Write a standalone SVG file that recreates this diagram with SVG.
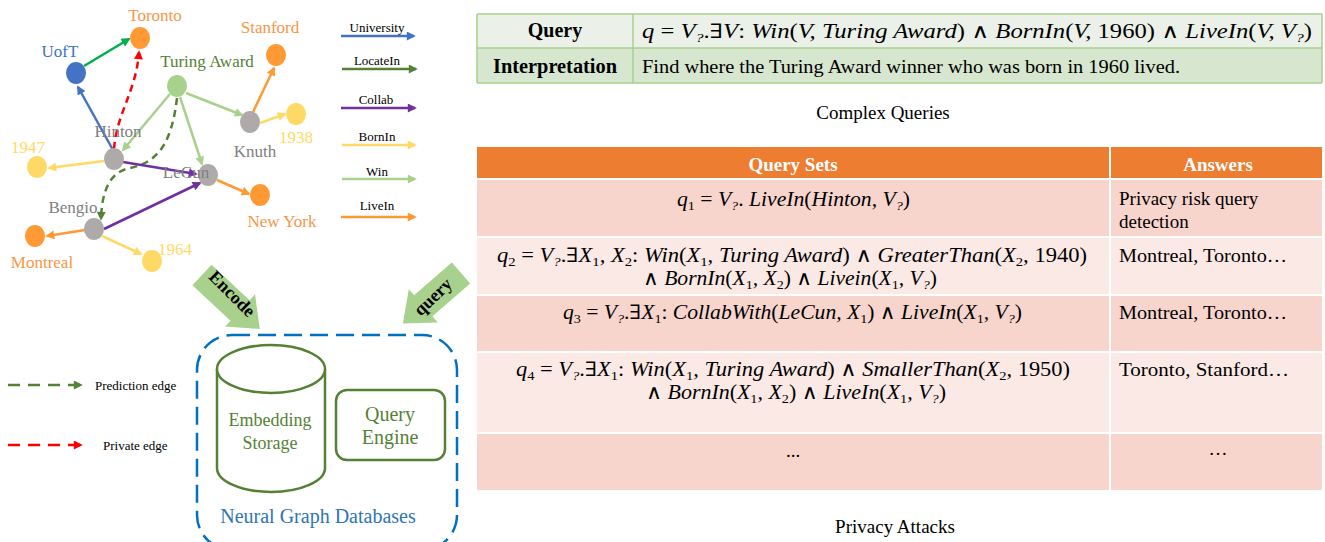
<svg xmlns="http://www.w3.org/2000/svg" width="1325" height="542" viewBox="0 0 1325 542">
<style>
  text{font-family:"Liberation Serif","Times New Roman",serif;}
  .lbl{font-size:17px;text-anchor:middle;}
  .org{fill:#f79646;} .yel{fill:#ffd966;} .gry{fill:#808080;}
  .leg{font-size:13px;text-anchor:middle;fill:#000;}
  .e{fill:none;stroke-width:2.5;}
  .m{font-size:20px;font-style:italic;fill:#000;}
  .u{font-style:normal;}
  .op{font-style:normal;font-family:"DejaVu Serif","Liberation Serif",serif;font-size:20px;font-weight:normal;}
  .sub{font-size:13px;baseline-shift:-4px;}
  .cell{font-size:19px;fill:#000;}
  .hd{font-size:19px;font-weight:bold;fill:#fff;text-anchor:middle;}
</style>
<defs>
  <marker id="aBlue" viewBox="0 0 10 10" refX="8" refY="5" markerUnits="userSpaceOnUse" markerWidth="10" markerHeight="9" orient="auto"><path d="M0,0L10,5L0,10z" fill="#4472c4"/></marker>
  <marker id="aGreen" viewBox="0 0 10 10" refX="8" refY="5" markerUnits="userSpaceOnUse" markerWidth="10" markerHeight="9" orient="auto"><path d="M0,0L10,5L0,10z" fill="#00b050"/></marker>
  <marker id="aDG" viewBox="0 0 10 10" refX="8" refY="5" markerUnits="userSpaceOnUse" markerWidth="10" markerHeight="9" orient="auto"><path d="M0,0L10,5L0,10z" fill="#548235"/></marker>
  <marker id="aLG" viewBox="0 0 10 10" refX="8" refY="5" markerUnits="userSpaceOnUse" markerWidth="10" markerHeight="9" orient="auto"><path d="M0,0L10,5L0,10z" fill="#a9d18e"/></marker>
  <marker id="aPur" viewBox="0 0 10 10" refX="8" refY="5" markerUnits="userSpaceOnUse" markerWidth="10" markerHeight="9" orient="auto"><path d="M0,0L10,5L0,10z" fill="#7030a0"/></marker>
  <marker id="aYel" viewBox="0 0 10 10" refX="8" refY="5" markerUnits="userSpaceOnUse" markerWidth="10" markerHeight="9" orient="auto"><path d="M0,0L10,5L0,10z" fill="#ffd966"/></marker>
  <marker id="aOrg" viewBox="0 0 10 10" refX="8" refY="5" markerUnits="userSpaceOnUse" markerWidth="10" markerHeight="9" orient="auto"><path d="M0,0L10,5L0,10z" fill="#ff9933"/></marker>
  <marker id="aRed" viewBox="0 0 10 10" refX="8" refY="5" markerUnits="userSpaceOnUse" markerWidth="10" markerHeight="9" orient="auto"><path d="M0,0L10,5L0,10z" fill="#ff0000"/></marker>
</defs>

<!-- connectors -->
<g id="connectors">
  <line class="e" x1="84" y1="66" x2="129" y2="39" stroke="#00b050" marker-end="url(#aGreen)"/>
  <line class="e" x1="113" y1="150" x2="78" y2="87" stroke="#4472c4" marker-end="url(#aBlue)"/>
  <path class="e" d="M114,149 C117,112 136,92 139,52" stroke="#ff0000" stroke-dasharray="7 5" marker-end="url(#aRed)"/>
  <line class="e" x1="170" y1="94" x2="123" y2="150" stroke="#a9d18e" marker-end="url(#aLG)"/>
  <line class="e" x1="180" y1="97" x2="202" y2="164" stroke="#a9d18e" marker-end="url(#aLG)"/>
  <line class="e" x1="186" y1="93" x2="242" y2="115" stroke="#a9d18e" marker-end="url(#aLG)"/>
  <path class="e" d="M177,98 C172,140 160,162 130,168 C110,172 102,190 101,219" stroke="#548235" stroke-dasharray="7 5" marker-end="url(#aDG)"/>
  <line class="e" x1="253" y1="112" x2="274" y2="68" stroke="#ff9933" marker-end="url(#aOrg)"/>
  <line class="e" x1="260" y1="123" x2="285" y2="114" stroke="#ffd966" marker-end="url(#aYel)"/>
  <line class="e" x1="104" y1="161" x2="49" y2="168" stroke="#ffd966" marker-end="url(#aYel)"/>
  <line class="e" x1="123" y1="162" x2="196" y2="174" stroke="#7030a0" marker-end="url(#aPur)"/>
  <line class="e" x1="104" y1="229" x2="200" y2="183" stroke="#7030a0" marker-end="url(#aPur)"/>
  <line class="e" x1="217" y1="180" x2="249" y2="194" stroke="#ff9933" marker-end="url(#aOrg)"/>
  <line class="e" x1="85" y1="230" x2="47" y2="236" stroke="#ff9933" marker-end="url(#aOrg)"/>
  <line class="e" x1="102" y1="236" x2="141" y2="254" stroke="#ffd966" marker-end="url(#aYel)"/>
</g>

<!-- graph nodes -->
<g id="n-toronto"><ellipse cx="140" cy="38" rx="10" ry="11" fill="#ff9933"/><text class="lbl org" x="155" y="21">Toronto</text></g>
<g id="n-uoft"><ellipse cx="76" cy="73" rx="10" ry="11" fill="#4472c4"/><text class="lbl" x="60" y="57" fill="#4472c4">UofT</text></g>
<g id="n-turing"><ellipse cx="177" cy="86" rx="10" ry="11" fill="#a9d18e"/><text class="lbl" x="207" y="67" fill="#548235">Turing Award</text></g>
<g id="n-stanford"><ellipse cx="276" cy="55" rx="10" ry="11" fill="#ff9933"/><text class="lbl org" x="270" y="33">Stanford</text></g>
<g id="n-1938"><ellipse cx="296" cy="114" rx="10" ry="11" fill="#ffd966"/><text class="lbl yel" x="296" y="143">1938</text></g>
<g id="n-knuth"><ellipse cx="250" cy="122" rx="10" ry="11" fill="#aeaaaa"/><text class="lbl gry" x="255" y="157">Knuth</text></g>
<g id="n-1947"><ellipse cx="37" cy="167" rx="10" ry="11" fill="#ffd966"/><text class="lbl yel" x="28" y="153">1947</text></g>
<g id="n-hinton"><ellipse cx="114" cy="159" rx="10" ry="11" fill="#aeaaaa"/><text class="lbl gry" x="118" y="137">Hinton</text></g>
<g id="n-lecun"><ellipse cx="208" cy="175" rx="10" ry="11" fill="#aeaaaa"/><text class="lbl gry" x="186" y="178">LeCun</text></g>
<g id="n-newyork"><ellipse cx="260" cy="195" rx="10" ry="11" fill="#ff9933"/><text class="lbl org" x="282" y="227">New York</text></g>
<g id="n-bengio"><ellipse cx="94" cy="229" rx="10" ry="11" fill="#aeaaaa"/><text class="lbl gry" x="73" y="213">Bengio</text></g>
<g id="n-montreal"><ellipse cx="35" cy="236" rx="10" ry="11" fill="#ff9933"/><text class="lbl org" x="42" y="268">Montreal</text></g>
<g id="n-1964"><ellipse cx="152" cy="261" rx="10" ry="11" fill="#ffd966"/><text class="lbl yel" x="175" y="255">1964</text></g>

<!-- relation legend -->
<g id="legend-relations">
  <text class="leg" x="377" y="32">University</text>
  <line class="e" x1="341" y1="36" x2="414" y2="36" stroke="#4472c4" marker-end="url(#aBlue)"/>
  <text class="leg" x="377" y="65">LocateIn</text>
  <line class="e" x1="342" y1="69" x2="416" y2="69" stroke="#548235" marker-end="url(#aDG)"/>
  <text class="leg" x="376" y="104">Collab</text>
  <line class="e" x1="341" y1="108" x2="415" y2="108" stroke="#7030a0" marker-end="url(#aPur)"/>
  <text class="leg" x="377" y="141">BornIn</text>
  <line class="e" x1="342" y1="145" x2="415" y2="145" stroke="#ffd966" marker-end="url(#aYel)"/>
  <text class="leg" x="377" y="176">Win</text>
  <line class="e" x1="342" y1="179" x2="415" y2="179" stroke="#a9d18e" marker-end="url(#aLG)"/>
  <text class="leg" x="377" y="210">LiveIn</text>
  <line class="e" x1="341" y1="217" x2="415" y2="217" stroke="#ff9933" marker-end="url(#aOrg)"/>
</g>

<!-- edge-type legend -->
<g id="legend-edges">
  <line class="e" x1="8" y1="385" x2="81" y2="385" stroke="#548235" stroke-dasharray="12 8" marker-end="url(#aDG)"/>
  <text x="95" y="390" font-size="13" fill="#000">Prediction edge</text>
  <line class="e" x1="8" y1="445" x2="81" y2="445" stroke="#ff0000" stroke-dasharray="12 8" marker-end="url(#aRed)"/>
  <text x="103" y="450" font-size="13" fill="#000">Private edge</text>
</g>

<!-- block arrows -->
<g id="arrow-encode">
  <polygon transform="translate(202,275) rotate(43)" points="0,-14 52,-14 52,-22 79,0 52,22 52,14 0,14" fill="#a9d18e"/>
  <text transform="translate(228,298) rotate(45)" font-size="18" font-weight="bold" text-anchor="middle" fill="#000">Encode</text>
</g>
<g id="arrow-query">
  <polygon transform="translate(461,273) rotate(139)" points="0,-14 50,-14 50,-22 77,0 50,22 50,14 0,14" fill="#a9d18e"/>
  <text transform="translate(437,301) rotate(-44)" font-size="18" font-weight="bold" text-anchor="middle" fill="#000">query</text>
</g>

<!-- neural graph database -->
<g id="ngdb">
  <rect x="197" y="335" width="260" height="215" rx="35" fill="none" stroke="#0070c0" stroke-width="2.5" stroke-dasharray="18 8"/>
  <text x="318" y="523" font-size="20" text-anchor="middle" fill="#2e75b6">Neural Graph Databases</text>
</g>
<g id="embedding-storage">
  <path d="M217,369 L217,468 A54,24 0 0 0 325,468 L325,369" fill="#fff" stroke="#548235" stroke-width="2.5"/>
  <ellipse cx="271" cy="369" rx="54" ry="24" fill="#fff" stroke="#548235" stroke-width="2.5"/>
  <text x="270" y="426" font-size="18" text-anchor="middle" fill="#548235">Embedding</text>
  <text x="270" y="449" font-size="18" text-anchor="middle" fill="#548235">Storage</text>
</g>
<g id="query-engine">
  <rect x="336" y="390" width="109" height="70" rx="11" fill="#fff" stroke="#548235" stroke-width="2.5"/>
  <text x="390" y="421" font-size="20" text-anchor="middle" fill="#548235">Query</text>
  <text x="390" y="444" font-size="20" text-anchor="middle" fill="#548235">Engine</text>
</g>

<!-- complex query table -->
<g id="complex-query-table">
  <rect x="477" y="14" width="845" height="34" fill="#ebf1e8"/>
  <rect x="477" y="48" width="845" height="35" fill="#d6e6cf"/>
  <g stroke="#a9d18e" stroke-width="1.5">
    <line x1="477" y1="14" x2="1322" y2="14"/>
    <line x1="477" y1="48" x2="1322" y2="48"/>
    <line x1="477" y1="83" x2="1322" y2="83"/>
    <line x1="477" y1="14" x2="477" y2="83"/>
    <line x1="633" y1="14" x2="633" y2="83"/>
    <line x1="1322" y1="14" x2="1322" y2="83"/>
  </g>
  <text x="555" y="37" font-size="20" font-weight="bold" text-anchor="middle" fill="#000">Query</text>
  <text x="555" y="73" font-size="20" font-weight="bold" text-anchor="middle" fill="#000" textLength="124" lengthAdjust="spacingAndGlyphs">Interpretation</text>
  <text class="m" x="642" y="38" textLength="670" lengthAdjust="spacingAndGlyphs">q <tspan class="u">=</tspan> V<tspan class="sub">?</tspan><tspan class="u">.</tspan><tspan class="op">∃</tspan>V<tspan class="u">:</tspan> Win<tspan class="u">(</tspan>V, Turing Award<tspan class="u">)</tspan> <tspan class="op">∧</tspan> BornIn<tspan class="u">(</tspan>V, <tspan class="u">1960)</tspan> <tspan class="op">∧</tspan> LiveIn<tspan class="u">(</tspan>V, V<tspan class="sub">?</tspan><tspan class="u">)</tspan></text>
  <text class="cell" x="642" y="73" textLength="538" lengthAdjust="spacingAndGlyphs">Find where the Turing Award winner who was born in 1960 lived.</text>
  <text x="883" y="119" font-size="19" text-anchor="middle" fill="#000">Complex Queries</text>
</g>

<!-- privacy attack table -->
<g id="privacy-table">
  <rect x="477" y="147" width="845" height="32" fill="#ed7d31"/>
  <rect x="477" y="179" width="845" height="58" fill="#f8d5cc"/>
  <rect x="477" y="237" width="845" height="58" fill="#fbe9e5"/>
  <rect x="477" y="295" width="845" height="57" fill="#f8d5cc"/>
  <rect x="477" y="352" width="845" height="81" fill="#fbe9e5"/>
  <rect x="477" y="433" width="845" height="57" fill="#f8d5cc"/>
  <g stroke="#fff" stroke-width="2">
    <line x1="477" y1="179" x2="1322" y2="179"/>
    <line x1="477" y1="237" x2="1322" y2="237"/>
    <line x1="477" y1="295" x2="1322" y2="295"/>
    <line x1="477" y1="352" x2="1322" y2="352"/>
    <line x1="477" y1="433" x2="1322" y2="433"/>
    <line x1="1110" y1="147" x2="1110" y2="490"/>
  </g>
  <text class="hd" x="793" y="171">Query Sets</text>
  <text class="hd" x="1218" y="171">Answers</text>

  <text class="m" x="677" y="206" textLength="233" lengthAdjust="spacingAndGlyphs">q<tspan class="sub u">1</tspan> <tspan class="u">=</tspan> V<tspan class="sub">?</tspan><tspan class="u">.</tspan> LiveIn<tspan class="u">(</tspan>Hinton, V<tspan class="sub">?</tspan><tspan class="u">)</tspan></text>
  <text class="cell" x="1119" y="205">Privacy risk query</text>
  <text class="cell" x="1119" y="228">detection</text>

  <text class="m" x="497" y="262" textLength="590" lengthAdjust="spacingAndGlyphs">q<tspan class="sub u">2</tspan>  <tspan class="u">=</tspan> V<tspan class="sub">?</tspan><tspan class="u">.</tspan><tspan class="op">∃</tspan>X<tspan class="sub u">1</tspan>, X<tspan class="sub u">2</tspan><tspan class="u">:</tspan> Win<tspan class="u">(</tspan>X<tspan class="sub u">1</tspan>, Turing Award<tspan class="u">)</tspan> <tspan class="op">∧</tspan> GreaterThan<tspan class="u">(</tspan>X<tspan class="sub u">2</tspan>, <tspan class="u">1940)</tspan></text>
  <text class="m" x="643" y="285" textLength="294" lengthAdjust="spacingAndGlyphs"><tspan class="op">∧</tspan> BornIn<tspan class="u">(</tspan>X<tspan class="sub u">1</tspan>, X<tspan class="sub u">2</tspan><tspan class="u">)</tspan> <tspan class="op">∧</tspan> Livein<tspan class="u">(</tspan>X<tspan class="sub u">1</tspan>, V<tspan class="sub">?</tspan><tspan class="u">)</tspan></text>
  <text class="cell" x="1119" y="262" textLength="168" lengthAdjust="spacingAndGlyphs">Montreal, Toronto…</text>

  <text class="m" x="563" y="319" textLength="459" lengthAdjust="spacingAndGlyphs">q<tspan class="sub u">3</tspan> <tspan class="u">=</tspan> V<tspan class="sub">?</tspan><tspan class="u">.</tspan><tspan class="op">∃</tspan>X<tspan class="sub u">1</tspan><tspan class="u">:</tspan> CollabWith<tspan class="u">(</tspan>LeCun, X<tspan class="sub u">1</tspan><tspan class="u">)</tspan> <tspan class="op">∧</tspan> LiveIn<tspan class="u">(</tspan>X<tspan class="sub u">1</tspan>, V<tspan class="sub">?</tspan><tspan class="u">)</tspan></text>
  <text class="cell" x="1119" y="319" textLength="168" lengthAdjust="spacingAndGlyphs">Montreal, Toronto…</text>

  <text class="m" x="516" y="376" textLength="554" lengthAdjust="spacingAndGlyphs">q<tspan class="sub u">4</tspan> <tspan class="u">=</tspan> V<tspan class="sub">?</tspan><tspan class="u">.</tspan><tspan class="op">∃</tspan>X<tspan class="sub u">1</tspan><tspan class="u">:</tspan> Win<tspan class="u">(</tspan>X<tspan class="sub u">1</tspan>, Turing Award<tspan class="u">)</tspan> <tspan class="op">∧</tspan> SmallerThan<tspan class="u">(</tspan>X<tspan class="sub u">2</tspan>, <tspan class="u">1950)</tspan></text>
  <text class="m" x="646" y="399" textLength="300" lengthAdjust="spacingAndGlyphs"><tspan class="op">∧</tspan> BornIn<tspan class="u">(</tspan>X<tspan class="sub u">1</tspan>, X<tspan class="sub u">2</tspan><tspan class="u">)</tspan> <tspan class="op">∧</tspan> LiveIn<tspan class="u">(</tspan>X<tspan class="sub u">1</tspan>, V<tspan class="sub">?</tspan><tspan class="u">)</tspan></text>
  <text class="cell" x="1119" y="376" textLength="170" lengthAdjust="spacingAndGlyphs">Toronto, Stanford…</text>

  <text class="cell" x="793" y="457" text-anchor="middle" font-size="16">...</text>
  <text class="cell" x="1218" y="455" text-anchor="middle" font-size="16">…</text>
  <text x="895" y="533" font-size="19" text-anchor="middle" fill="#000">Privacy Attacks</text>
</g>
</svg>
